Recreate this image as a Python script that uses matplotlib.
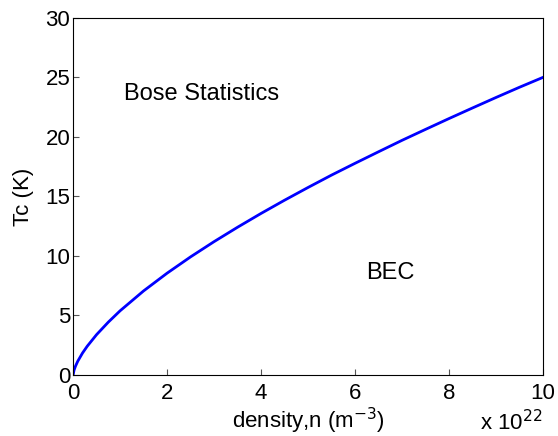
import matplotlib
matplotlib.use('Agg')
import matplotlib.pyplot as plt

plt.rcParams['font.family'] = ['Liberation Sans', 'DejaVu Sans']

# density in units of 1e22 m^-3 and critical temperature in K
density = [0, 0.02, 0.05, 0.1, 0.2, 0.3, 0.5, 0.75, 1.0, 1.5, 2.0, 2.5, 3.0,
           3.5, 4.0, 4.5, 5.0, 5.5, 6.0, 6.5, 7.0, 7.5, 8.0, 8.5, 9.0, 9.5, 10.0]
tc = [0, 0.40, 0.73, 1.16, 1.84, 2.41, 3.39, 4.44, 5.39, 7.06, 8.55, 9.92,
      11.20, 12.41, 13.57, 14.68, 15.75, 16.79, 17.78, 18.75, 19.71, 20.63,
      21.54, 22.43, 23.31, 24.17, 25.0]

fs = 16

fig = plt.figure(figsize=(5.58, 4.36), dpi=100)
ax = fig.add_axes([0.131, 0.140, 0.842, 0.819])

ax.plot(density, tc, color='#0000ff', linewidth=2.0)

ax.set_xlim(0, 10)
ax.set_ylim(0, 30)
ax.set_xticks(range(0, 11, 2))
ax.set_yticks(range(0, 31, 5))
ax.tick_params(direction='in', length=4, labelsize=fs, color='#555555')
ax.tick_params(axis='x', pad=6)
ax.tick_params(axis='y', pad=2)

ax.set_xlabel('density,n (m$^{-3}$)', fontsize=fs, labelpad=1)
ax.set_ylabel('Tc (K)', fontsize=fs, labelpad=8)

ax.text(1.08, 23.6, 'Bose Statistics', fontsize=17, va='center')
ax.text(6.23, 8.6, 'BEC', fontsize=17, va='center')
fig.text(0.86, 0.002, 'x 10$^{22}$', fontsize=fs, va='bottom')

fig.savefig('out.png', dpi=100)
